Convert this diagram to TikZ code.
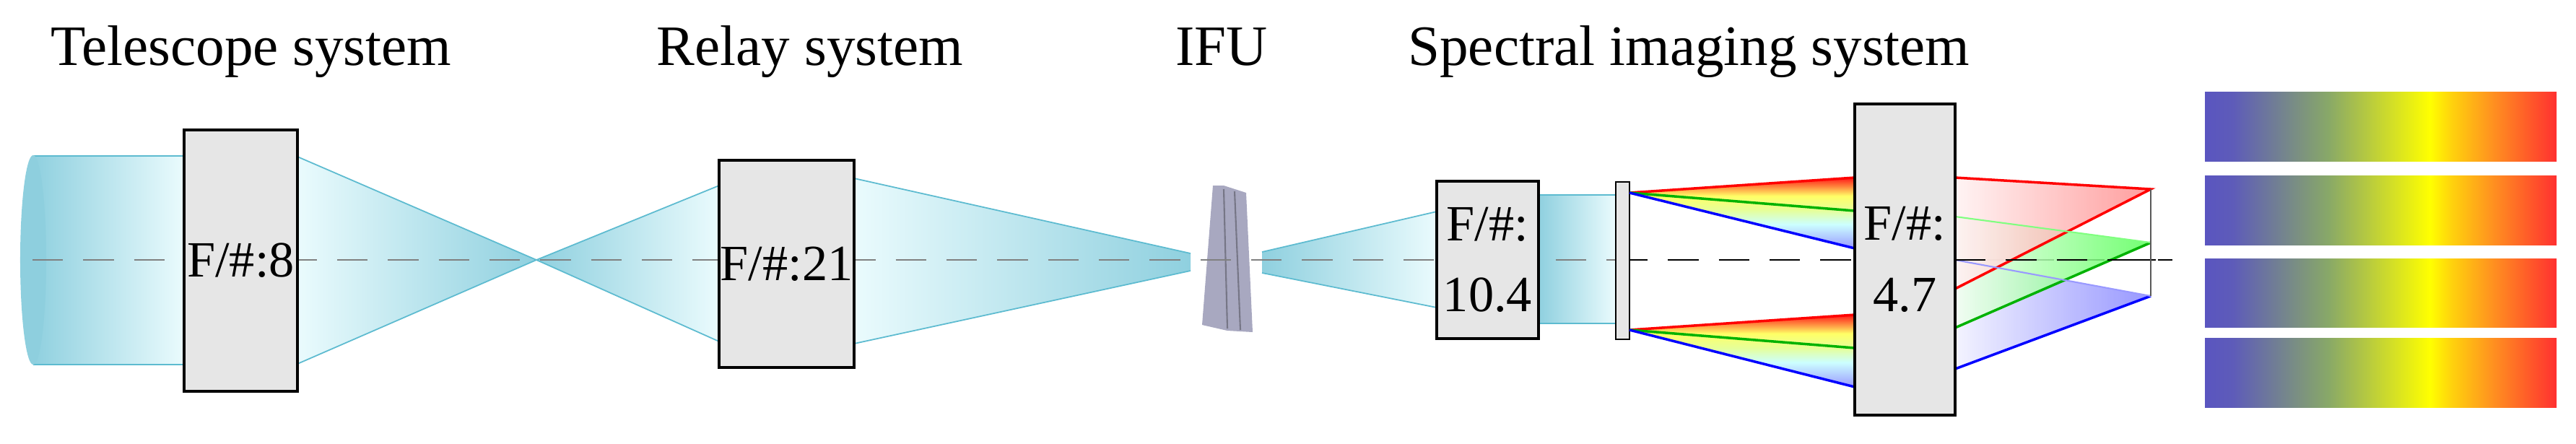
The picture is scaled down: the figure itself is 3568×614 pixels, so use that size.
\documentclass[tikz,border=0pt]{standalone}
\usepackage{fontspec}
\setmainfont{Liberation Serif}
\usetikzlibrary{shapes.geometric}
\definecolor{beamD}{HTML}{8FD0DF}
\definecolor{beamL}{HTML}{EAFBFD}
\definecolor{beamE}{HTML}{5DBBD0}
\definecolor{boxg}{HTML}{E6E6E6}
\definecolor{bblue}{HTML}{5A55C0}
\definecolor{bgreen}{HTML}{88A868}
\definecolor{borange}{HTML}{FF9020}
\definecolor{bred}{HTML}{FF3030}
\definecolor{ifuc}{HTML}{A8A8C0}
\pgfdeclarehorizontalshading{specbar}{100bp}{color(0bp)=(bblue); color(25bp)=(bblue); color(29bp)=(bblue!92!bgreen); color(42.5bp)=(bgreen); color(57bp)=(yellow); color(60bp)=(yellow!60!borange); color(66bp)=(borange); color(75bp)=(bred); color(100bp)=(bred)}
\pgfdeclareverticalshading{fanshade}{100bp}{color(0bp)=(blue!40); color(25bp)=(blue!40); color(42bp)=(cyan!20); color(52bp)=(green!25!yellow!40); color(62bp)=(yellow!60); color(75bp)=(red!90); color(100bp)=(red!90)}
\tikzset{
  title/.style={font=\fontsize{22.5pt}{26pt}\selectfont, anchor=base},
  lensbox/.style={draw=black, line width=1.1pt, fill=boxg, inner sep=0pt, font=\fontsize{20pt}{24pt}\selectfont, align=center},
  edge/.style={draw=beamE, line width=0.5pt},
  axis/.style={draw=gray, dashed, dash pattern=on 12pt off 8pt, line width=0.8pt},
}
\begin{document}
\begin{tikzpicture}[x=0.01cm,y=-0.01cm]
\useasboundingbox (0,0) rectangle (3568,614);
% titles
\node[title] (t1) at (348,90) {Telescope system};
\node[title] (t2) at (1122,90) {Relay system};
\node[title] (t3) at (1692,90) {IFU};
\node[title, anchor=base west] (t4) at (1938,90) {Spectral imaging system};
% telescope beam
\shade[left color=beamD, right color=beamL] (46,216) rectangle (255,505);
\draw[edge] (46,216) -- (255,216) (46,505) -- (255,505);
\fill[beamE!70!white] (46,360) ellipse [x radius=0.18cm, y radius=1.45cm];
% cones
\shade[left color=beamL, right color=beamD] (412,217) -- (743,360) -- (412,504) -- cycle;
\shade[left color=beamD, right color=beamL] (743,360) -- (996,257) -- (996,473) -- cycle;
\draw[edge] (412,217) -- (743,360) -- (996,257) (412,504) -- (743,360) -- (996,473);
\shade[left color=beamL, right color=beamD] (1183,247) -- (1649,351) -- (1649,375) -- (1183,476) -- cycle;
\draw[edge] (1183,247) -- (1649,351) (1183,476) -- (1649,375);
\shade[left color=beamD, right color=beamL] (1748,349) -- (1990,293) -- (1990,426) -- (1748,378) -- cycle;
\draw[edge] (1748,349) -- (1990,293) (1748,378) -- (1990,426);
\shade[left color=beamD, right color=beamL] (2131,270) rectangle (2238,448);
\draw[edge] (2131,270) -- (2238,270) (2131,448) -- (2238,448);
% IFU
\fill[ifuc] (1680,257) -- (1695,257) -- (1726,267) -- (1735,460) -- (1700,458) -- (1665,450) -- cycle;
\draw[ifuc!70!black, line width=0.6pt] (1695,262) -- (1700,455) (1710,265) -- (1718,457);
% axis
\draw[axis] (45,360) -- (2240,360);
\draw[axis, draw=black] (2240,360) -- (3009,360);
% boxes
\node[lensbox, minimum width=1.57cm, minimum height=3.62cm] (b1) at (333.5,361) {F/\#:8};
\node[lensbox, minimum width=1.87cm, minimum height=2.87cm] (b2) at (1089.5,365.5) {F/\#:21};
\node[lensbox, minimum width=1.41cm, minimum height=2.18cm] (b3) at (2060.5,360) {F/\#:\\[4pt]10.4};
\node[lensbox, line width=0.7pt, minimum width=0.19cm, minimum height=2.18cm] (g) at (2247.5,361) {};
% dispersion fans
\foreach \ay/\r/\gy/\b in {267/246/292/344, 457/436/482/536}{
  \shade[shading=fanshade] (2257,\ay) -- (2569,\r) -- (2569,\b) -- cycle;
  \draw[red, line width=1pt] (2257,\ay) -- (2569,\r);
  \draw[green!70!black, line width=1pt] (2257,\ay) -- (2569,\gy);
  \draw[blue, line width=1pt] (2257,\ay) -- (2569,\b);
}
% focusing beams
\coordinate (pr) at (2979,262);
\coordinate (pg) at (2979,336);
\coordinate (pb) at (2979,410);
\shade[left color=blue!5, right color=blue!45, opacity=0.9] (2708,360) -- (pb) -- (2708,511) -- cycle;
\shade[left color=green!5, right color=green!65, opacity=0.85] (2708,300) -- (pg) -- (2708,454) -- cycle;
\shade[left color=red!5, right color=red!45, opacity=0.85] (2708,246) -- (pr) -- (2708,400) -- cycle;
\draw[red, line width=1pt] (2708,246) -- (pr) -- (2708,400);
\draw[green!70!black, line width=1pt] (pg) -- (2708,454);
\draw[green!50, line width=0.6pt] (pg) -- (2708,300);
\draw[blue, line width=1pt] (pb) -- (2708,511);
\draw[blue!40, line width=0.6pt] (pb) -- (2708,360);
\draw[gray!70!black, line width=0.5pt] (pr) -- (pb);
\draw[axis, draw=black] (2708,360) -- (3009,360);
\node[lensbox, minimum width=1.39cm, minimum height=4.31cm] (b4) at (2638.5,359.5) {F/\#:\\[4pt]4.7};
% spectra bars
\foreach \ya/\yb [count=\i] in {127/223, 243/339, 358/453, 468/564}{
  \shade[shading=specbar] (3054,\ya) rectangle (3541,\yb);
}
\end{tikzpicture}
\end{document}
